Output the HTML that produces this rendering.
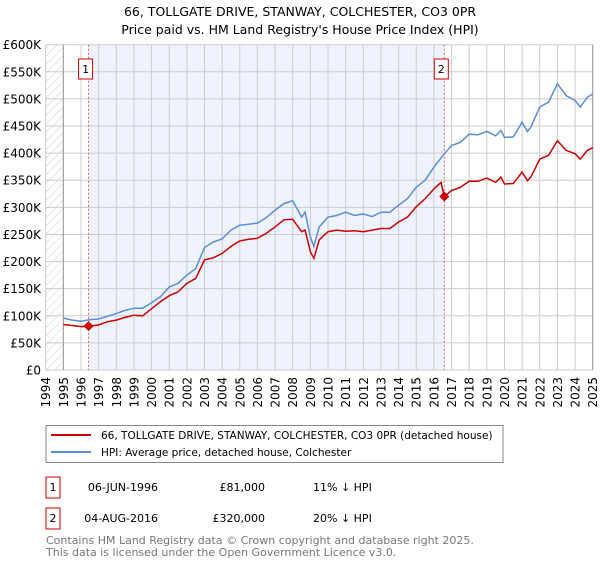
<!DOCTYPE html>
<html><head><meta charset="utf-8"><style>
body{margin:0;background:#fff;font-family:"DejaVu Sans","Liberation Sans",sans-serif;}
svg text{font-family:"DejaVu Sans","Liberation Sans",sans-serif;}
</style></head><body>
<svg id="chart" width="600" height="560" xmlns="http://www.w3.org/2000/svg">
<defs><pattern id="hatch" width="6" height="6" patternUnits="userSpaceOnUse" patternTransform="rotate(45)"><line x1="0" y1="0" x2="0" y2="6" stroke="#ccc" stroke-width="1"/></pattern></defs>
<text x="300" y="16" text-anchor="middle" font-size="12.5">66, TOLLGATE DRIVE, STANWAY, COLCHESTER, CO3 0PR</text>
<text x="300" y="34" text-anchor="middle" font-size="12.5">Price paid vs. HM Land Registry's House Price Index (HPI)</text>
<g id="plot"></g>
<rect x="46" y="425.5" width="457" height="37" fill="#fff" stroke="#888"/>
<line x1="51" y1="435" x2="91" y2="435" stroke="#cc0000" stroke-width="2"/>
<text x="101" y="439" font-size="10.5">66, TOLLGATE DRIVE, STANWAY, COLCHESTER, CO3 0PR (detached house)</text>
<line x1="51" y1="452" x2="91" y2="452" stroke="#5b8ed6" stroke-width="2"/>
<text x="101" y="456" font-size="10.5">HPI: Average price, detached house, Colchester</text>
<rect x="46" y="477" width="14" height="21" fill="#fff" stroke="#cc0000"/>
<text x="53" y="491" text-anchor="middle" font-size="11">1</text>
<text x="158" y="491" text-anchor="end" font-size="11">06-JUN-1996</text>
<text x="265" y="491" text-anchor="end" font-size="11">£81,000</text>
<text x="313" y="491" font-size="11">11% ↓ HPI</text>
<rect x="46" y="508" width="14" height="21" fill="#fff" stroke="#cc0000"/>
<text x="53" y="522" text-anchor="middle" font-size="11">2</text>
<text x="158" y="522" text-anchor="end" font-size="11">04-AUG-2016</text>
<text x="265" y="522" text-anchor="end" font-size="11">£320,000</text>
<text x="313" y="522" font-size="11">20% ↓ HPI</text>
<text x="46" y="544" font-size="11" fill="#777">Contains HM Land Registry data © Crown copyright and database right 2025.</text>
<text x="46" y="556" font-size="11" fill="#777">This data is licensed under the Open Government Licence v3.0.</text>
</svg>
<script>
const yearTicks=[1994,1995,1996,1997,1998,1999,2000,2001,2002,2003,2004,2005,2006,2007,2008,2009,2010,2011,2012,2013,2014,2015,2016,2017,2018,2019,2020,2021,2022,2023,2024,2025];
const priceTicks=[0,50,100,150,200,250,300,350,400,450,500,550,600];
const priceTickLabels=["£0","£50K","£100K","£150K","£200K","£250K","£300K","£350K","£400K","£450K","£500K","£550K","£600K"];
const hpiYears=[1995,1995.5,1996,1996.5,1997,1997.5,1998,1998.5,1999,1999.5,2000,2000.5,2001,2001.5,2002,2002.5,2003,2003.5,2004,2004.5,2005,2005.5,2006,2006.5,2007,2007.5,2008,2008.5,2008.7,2009,2009.2,2009.5,2010,2010.5,2011,2011.5,2012,2012.5,2013,2013.5,2014,2014.5,2015,2015.5,2016,2016.5,2017,2017.5,2018,2018.5,2019,2019.5,2019.8,2020,2020.5,2021,2021.3,2021.5,2022,2022.5,2023,2023.5,2024,2024.3,2024.7,2025];
const hpiValues=[96,92,90,93,94,99,104,110,114,114,124,135,153,160,175,187,226,236,242,258,267,269,271,281,295,307,312,282,291,245,228,264,282,285,291,285,288,283,291,291,304,316,337,350,374,395,414,420,435,434,440,432,442,429,430,457,440,448,485,494,528,506,497,485,503,509];
const propYears=[1995,1995.5,1996,1996.43,1997,1997.5,1998,1998.5,1999,1999.5,2000,2000.5,2001,2001.5,2002,2002.5,2003,2003.5,2004,2004.5,2005,2005.5,2006,2006.5,2007,2007.5,2008,2008.5,2008.7,2009,2009.2,2009.5,2010,2010.5,2011,2011.5,2012,2012.5,2013,2013.5,2014,2014.5,2015,2015.5,2016,2016.4,2016.59,2017,2017.5,2018,2018.5,2019,2019.5,2019.8,2020,2020.5,2021,2021.3,2021.5,2022,2022.5,2023,2023.5,2024,2024.3,2024.7,2025];
const propValues=[84,82,80,81,83,89,92,97,101,100,113,126,137,144,160,169,203,207,215,228,238,241,243,252,264,277,278,255,258,218,206,240,255,258,256,257,255,258,261,261,273,282,301,316,334,346,320,331,337,348,348,354,346,356,343,344,365,349,356,389,396,423,405,399,389,405,410];
const saleYears=[1996.43,2016.59];
const salePrices=[81,320];
const saleLabels=["1","2"];

const NS="http://www.w3.org/2000/svg";
const X0=45.7,X1=592.7,Y0=370,Y1=44.7;
function xs(y){return X0+(y-1994)/(2025-1994)*(X1-X0);}
function ys(v){return Y0-(v/600)*(Y0-Y1);}
const g=document.getElementById('plot');
function mk(t,a){const e=document.createElementNS(NS,t);for(const k in a)e.setAttribute(k,a[k]);g.appendChild(e);return e;}
let e;
e=mk('rect',{x:X0,y:Y1,width:X1-X0,height:Y0-Y1,fill:'#fff'});


e=mk('rect',{x:xs(1994),y:Y1,width:xs(1995)-xs(1994),height:Y0-Y1,fill:'url(#hatch)'});


e=mk('rect',{x:xs(saleYears[0]),y:Y1,width:xs(saleYears[1])-xs(saleYears[0]),height:Y0-Y1,fill:'#eef3fd'});


yearTicks.forEach(yr=>{
 e=mk('line',{x1:xs(yr),x2:xs(yr),y1:Y1,y2:Y0,stroke:'#ccc','stroke-width':1});
 
 
 e=mk('text',{x:0,y:0,'font-size':12,'text-anchor':'end',transform:`translate(${xs(yr)+4.5},377) rotate(-90)`});
 e.textContent=yr;
 
 
});
priceTicks.forEach((v,i)=>{
 e=mk('line',{x1:X0,x2:X1,y1:ys(v),y2:ys(v),stroke:'#ccc','stroke-width':1});
 
 
 e=mk('text',{x:41,y:ys(v)+4.5,'font-size':12,'text-anchor':'end'});
 e.textContent=priceTickLabels[i];
 
 
});
e=mk('line',{x1:xs(1995),x2:xs(1995),y1:Y1,y2:Y0,stroke:'#999'});


e=mk('line',{x1:X1,x2:X1,y1:Y1,y2:Y0,stroke:'#999'});


saleYears.forEach((yr,i)=>{
 e=mk('line',{x1:xs(yr),x2:xs(yr),y1:Y1,y2:Y0,stroke:'#e06060','stroke-dasharray':'2,2'});
 
 
});
function path(xa,va,col,name){
 const d=xa.map((x,i)=>(i?'L':'M')+xs(x).toFixed(1)+','+ys(va[i]).toFixed(1)).join('');
 e=mk('path',{d:d,fill:'none',stroke:col,'stroke-width':1.5});
 
 
}
path(hpiYears,hpiValues,'#5b8ed6','hpi-line');
path(propYears,propValues,'#cc0000','property-price-line');
saleYears.forEach((yr,i)=>{
 const cx=xs(yr),cy=ys(salePrices[i]);
 e=mk('path',{d:`M${cx},${cy-5}L${cx+5},${cy}L${cx},${cy+5}L${cx-5},${cy}Z`,fill:'#cc0000'});
 
 
 e=mk('rect',{x:cx-10,y:59,width:14,height:20,fill:'#fff',stroke:'#cc0000'});
 
 
 e=mk('text',{x:cx-3,y:73,'font-size':11,'text-anchor':'middle'});
 e.textContent=saleLabels[i];
 
 
});
</script>
</body></html>
